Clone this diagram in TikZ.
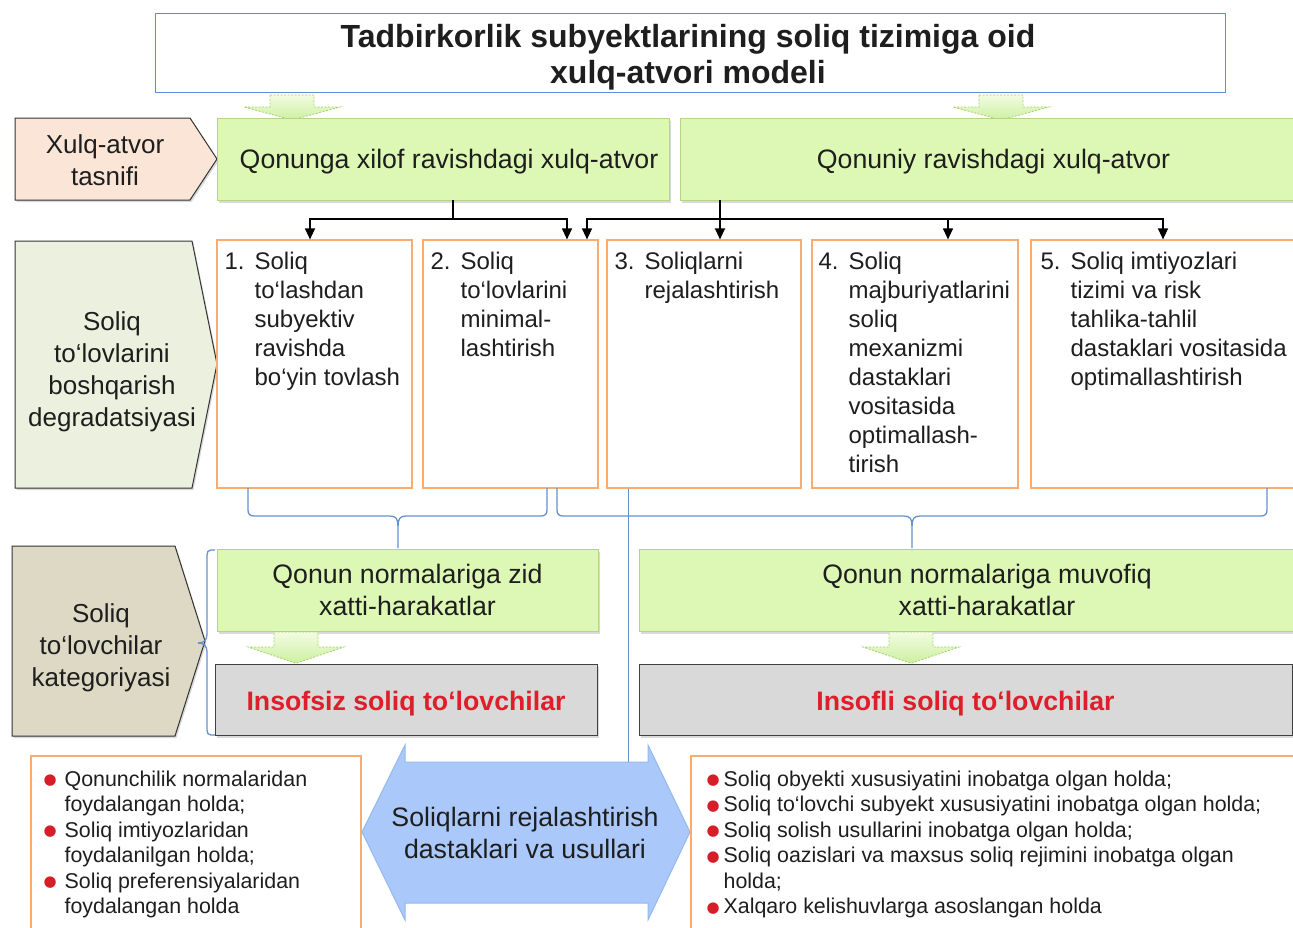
\documentclass[tikz,border=0pt]{standalone}
\usepackage{fontspec}
\setmainfont{Liberation Sans}
\newfontfamily\bulletfont{DejaVu Sans}
\usetikzlibrary{arrows.meta,shadows}

\definecolor{titleblue}{RGB}{91,143,214}
\definecolor{lawgreen}{RGB}{221,248,180}
\definecolor{lawedge}{RGB}{180,212,135}
\definecolor{steporange}{RGB}{248,172,112}
\definecolor{tagpeach}{RGB}{251,229,214}
\definecolor{tagsage}{RGB}{235,241,222}
\definecolor{tagtan}{RGB}{221,217,196}
\definecolor{payergrey}{RGB}{217,217,217}
\definecolor{payerred}{RGB}{222,30,42}
\definecolor{bulred}{RGB}{214,30,40}
\definecolor{bracketblue}{RGB}{100,145,205}
\definecolor{planblue}{RGB}{170,200,250}
\definecolor{planedge}{RGB}{150,185,235}
\definecolor{fatlight}{RGB}{242,252,226}
\definecolor{fatgreen}{RGB}{205,240,160}
\definecolor{fatedge}{RGB}{165,208,105}
\definecolor{inkgrey}{RGB}{30,30,30}

\newcommand{\redbullet}[1]{\makebox[#1][l]{\raisebox{1.5pt}{\textcolor{bulred}{\bulletfont\fontsize{15}{15}\selectfont ●}}}}
\newcommand{\lowered}[2]{\raisebox{-#1}[\height][\depth]{#2}}

\begin{document}
\begin{tikzpicture}[
    x=1pt, y=-1pt,
    font=\fontsize{26.7}{32}\selectfont,
    text=inkgrey,
    headbox/.style={rectangle, draw=titleblue, line width=1pt, fill=white, inner sep=0pt, minimum width=1070pt, minimum height=79pt},
    headtext/.style={align=center, inner sep=0pt, font=\fontsize{32}{36}\selectfont\bfseries},
    lawbox/.style={rectangle, fill=lawgreen, draw=lawedge, line width=0.8pt, inner sep=0pt, minimum height=82pt, align=center, drop shadow={opacity=0.3, shadow xshift=1.5pt, shadow yshift=-3pt}},
    stepbox/.style={rectangle, draw=steporange, line width=1.2pt, fill=white, inner sep=0pt, minimum height=248pt},
    steptext/.style={anchor=north west, inner sep=0pt, font=\fontsize{24}{29}\selectfont},
    payerbox/.style={rectangle, fill=payergrey, draw=black!75, line width=1pt, inner sep=0pt, minimum height=71pt, font=\fontsize{26.7}{32}\selectfont\bfseries, text=payerred, drop shadow={opacity=0.3, shadow xshift=1.5pt, shadow yshift=-2.5pt}},
    listbox/.style={rectangle, draw=steporange, line width=1.2pt, inner sep=0pt, minimum height=184pt},
    listtext/.style={anchor=north west, inner sep=0pt, font=\fontsize{21.4}{25.5}\selectfont},
    tagshape/.style={draw=black!80, line width=1pt, drop shadow={opacity=0.3, shadow xshift=1.5pt, shadow yshift=-2pt}},
    tagtext/.style={align=center, inner sep=0pt, font=\fontsize{26}{32}\selectfont},
    planshape/.style={fill=planblue, draw=planedge, line width=1pt},
    plantext/.style={align=center, inner sep=0pt, minimum width=243pt, minimum height=141pt},
    conn/.style={-{Triangle[width=10pt,length=11pt]}, line width=1.3pt, black},
    link/.style={line width=1.3pt, black},
    bracket/.style={draw=bracketblue, line width=1.3pt},
    fatfill/.style={top color=fatlight, bottom color=fatgreen, draw=fatedge, line width=0.8pt, dash pattern=on 2pt off 1.5pt},
    fatdown/.pic={
        \path[fatfill] (-22,0) -- (22,0) -- (22,12) -- (48,12) -- (0,25) -- (-48,12) -- (-22,12) -- cycle;
    }
]
\useasboundingbox (0,0) rectangle (1293,927);

% Title
\node[headbox] (title) at (690,52.5) {};
\node[headtext] (titletext) at (688,57) {Tadbirkorlik subyektlarining soliq tizimiga oid\\xulq-atvori modeli};

\pic at (292,95) {fatdown};
\pic at (1001,95) {fatdown};

% Row 1: behaviour classification
\draw[tagshape, fill=tagpeach] (15,118) -- (190,118) -- (217,159) -- (190,200) -- (15,200) -- cycle;
\node[tagtext] (kind) at (105,160) {Xulq-atvor\\tasnifi};

\node[lawbox, minimum width=452pt] (lawA) at (443,159) {\lowered{3pt}{\hspace*{12pt}Qonunga xilof ravishdagi xulq-atvor}};
\node[lawbox, minimum width=627pt] (lawB) at (993.5,159) {\lowered{3pt}{Qonuniy ravishdagi xulq-atvor}};

% Row 2: degradation steps
\draw[tagshape, fill=tagsage] (15,241) -- (192,241) -- (217,364) -- (192,488) -- (15,488) -- cycle;
\node[tagtext] (degr) at (112,372) {Soliq\\to‘lovlarini\\boshqarish\\degradatsiyasi};

\node[stepbox, minimum width=195pt] (s1) at (314.5,364) {};
\node[stepbox, minimum width=175pt] (s2) at (510.5,364) {};
\node[stepbox, minimum width=194pt] (s3) at (704,364) {};
\node[stepbox, minimum width=206pt] (s4) at (915,364) {};
\node[stepbox, minimum width=279pt] (s5) at (1170.5,364) {};

\node[steptext] (s1t) at ([xshift=8pt,yshift=-13pt]s1.north west)
    {\makebox[30pt][l]{1.}\parbox[t]{155pt}{Soliq\\to‘lashdan\\subyektiv\\ravishda\\bo‘yin tovlash}};
\node[steptext] (s2t) at ([xshift=8pt,yshift=-13pt]s2.north west)
    {\makebox[30pt][l]{2.}\parbox[t]{135pt}{Soliq\\to‘lovlarini\\minimal-\\lashtirish}};
\node[steptext] (s3t) at ([xshift=8pt,yshift=-13pt]s3.north west)
    {\makebox[30pt][l]{3.}\parbox[t]{155pt}{Soliqlarni\\rejalashtirish}};
\node[steptext] (s4t) at ([xshift=7pt,yshift=-13pt]s4.north west)
    {\makebox[30pt][l]{4.}\parbox[t]{165pt}{Soliq\\majburiyatlarini\\soliq\\mexanizmi\\dastaklari\\vositasida\\optimallash-\\tirish}};
\node[steptext] (s5t) at ([xshift=10pt,yshift=-13pt]s5.north west)
    {\makebox[30pt][l]{5.}\parbox[t]{230pt}{Soliq imtiyozlari\\tizimi va risk\\tahlika-tahlil\\dastaklari vositasida\\optimallashtirish}};

% Connections
\coordinate (forkA) at (453,219);
\coordinate (forkB) at (720,219);
\draw[link] (lawA.south -| forkA) -- (forkA);
\draw[conn] (forkA) -| ([xshift=-4.5pt]s1.north);
\draw[conn] (forkA) -| ([xshift=56.5pt]s2.north);
\draw[conn] (lawB.south -| forkB) -- ([xshift=16pt]s3.north);
\draw[conn] (forkB) -| ([xshift=76.5pt]s2.north);
\draw[conn] (forkB) -| ([xshift=33pt]s4.north);
\draw[conn] (forkB) -| ([xshift=-7.5pt]s5.north);

% Braces
\coordinate (tipA) at (398,548);
\coordinate (tipB) at (912,548);
\draw[bracket] (248,488) -- (248,510) .. controls (248,514) and (250,516) .. (254,516) -- (390,516) .. controls (396,516) and (398,519) .. (398,526) -- (tipA);
\draw[bracket] (547,488) -- (547,510) .. controls (547,514) and (545,516) .. (541,516) -- (406,516) .. controls (400,516) and (398,519) .. (398,526);
\draw[bracket] (557,488) -- (557,510) .. controls (557,514) and (559,516) .. (563,516) -- (904,516) .. controls (910,516) and (912,519) .. (912,526) -- (tipB);
\draw[bracket] (1267,488) -- (1267,510) .. controls (1267,514) and (1265,516) .. (1261,516) -- (920,516) .. controls (914,516) and (912,519) .. (912,526);

% Row 3: taxpayer categories
\draw[tagshape, fill=tagtan] (12,546) -- (175,546) -- (205,641) -- (175,736) -- (12,736) -- cycle;
\node[tagtext] (categ) at (101,648) {Soliq\\to‘lovchilar\\kategoriyasi};

\draw[bracket] (215,550) -- (211,550) .. controls (208,550) and (207,552) .. (207,555) -- (207,634) .. controls (207,640) and (204,643) .. (198,643);
\draw[bracket] (215,735) -- (211,735) .. controls (208,735) and (207,733) .. (207,730) -- (207,652) .. controls (207,646) and (204,643) .. (198,643);

\node[lawbox, minimum width=381pt] (normA) at (407.5,590) {Qonun normalariga zid\\xatti-harakatlar};
\node[lawbox, minimum width=696pt] (normB) at (987,590) {Qonun normalariga muvofiq\\xatti-harakatlar};

\pic[yscale=1.25] at (296,632) {fatdown};
\pic[yscale=1.25] at (911,632) {fatdown};

\node[payerbox, minimum width=382pt] (insA) at (406,699.5) {\lowered{4pt}{Insofsiz soliq to‘lovchilar}};
\node[payerbox, minimum width=653pt] (insB) at (965.5,699.5) {\lowered{4pt}{Insofli soliq to‘lovchilar}};

% Tax planning tools
\draw[planshape] (405,762) -- (648,762) -- (648,745) -- (690,832) -- (648,920) -- (648,903) -- (405,903) -- (405,920) -- (362,832) -- (405,745) -- cycle;
\node[plantext] (plan) at (525,832.5) {Soliqlarni rejalashtirish\\dastaklari va usullari};
\coordinate (drop) at ([xshift=-76pt]s3.south);
\draw[bracket, line width=1pt] (drop) -- (drop |- plan.north);

\node[listbox, minimum width=330pt] (lstA) at (196,848) {};
\node[listbox, minimum width=619pt] (lstB) at (1000.5,848) {};

\node[listtext] (lstAt) at ([xshift=13pt,yshift=-13pt]lstA.north west) {%
\begin{tabular}{@{}l@{}l@{}}
\redbullet{21pt} & Qonunchilik normalaridan\\
 & foydalangan holda;\\
\redbullet{21pt} & Soliq imtiyozlaridan\\
 & foydalanilgan holda;\\
\redbullet{21pt} & Soliq preferensiyalaridan\\
 & foydalangan holda
\end{tabular}};
\node[listtext] (lstBt) at ([xshift=16pt,yshift=-13pt]lstB.north west) {%
\begin{tabular}{@{}l@{}l@{}}
\redbullet{17pt} & Soliq obyekti xususiyatini inobatga olgan holda;\\
\redbullet{17pt} & Soliq to‘lovchi subyekt xususiyatini inobatga olgan holda;\\
\redbullet{17pt} & Soliq solish usullarini inobatga olgan holda;\\
\redbullet{17pt} & Soliq oazislari va maxsus soliq rejimini inobatga olgan\\
 & holda;\\
\redbullet{17pt} & Xalqaro kelishuvlarga asoslangan holda
\end{tabular}};

\end{tikzpicture}
\end{document}
